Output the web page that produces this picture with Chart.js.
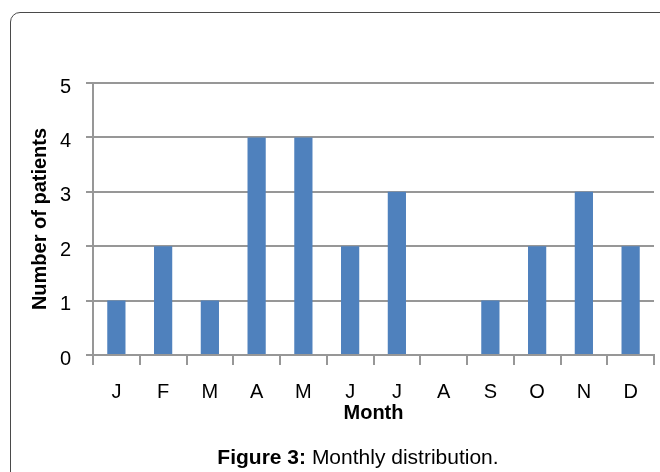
<!DOCTYPE html>
<html>
<head>
<meta charset="utf-8">
<script src="https://cdn.jsdelivr.net/npm/chart.js@4"></script>
<style>
  html, body { margin: 0; padding: 0; background: #fff; }
  body { width: 660px; height: 472px; position: relative; overflow: hidden; font-family: "Liberation Sans", Arial, sans-serif; }
  .frame { position: absolute; left: 10px; top: 12px; width: 680px; height: 500px; border: 1.5px solid #4a4a4a; border-radius: 10px; }
  #wrap { position: absolute; left: 0; top: 0; width: 660px; height: 472px; }
  .caption { position: absolute; left: 0; top: 444px; width: 716px; text-align: center; font-size: 21px; line-height: 26px; color: #000; }
</style>
</head>
<body>
<div class="frame"></div>
<div id="wrap"><canvas id="chart" width="660" height="472"></canvas></div>
<div class="caption"><b>Figure 3:</b> Monthly distribution.</div>
<script>
  // chart data
  const months   = ['J', 'F', 'M', 'A', 'M', 'J', 'J', 'A', 'S', 'O', 'N', 'D'];
  const patients = [1, 2, 1, 4, 4, 2, 3, 0, 1, 2, 3, 2];
  const yTicks   = [0, 1, 2, 3, 4, 5];

  const gridGrey = '#979797';
  const font     = { family: '"Liberation Sans", Arial, sans-serif', size: 20 };
  const bold     = { family: '"Liberation Sans", Arial, sans-serif', size: 20, weight: 'bold' };

  new Chart(document.getElementById('chart'), {
    type: 'bar',
    data: {
      labels: months,
      datasets: [{
        label: 'Number of patients',
        data: patients,
        backgroundColor: '#4F81BD',
        borderWidth: 0,
        barPercentage: 0.39,
        categoryPercentage: 1,
      }],
    },
    options: {
      responsive: false,
      animation: false,
      layout: { padding: { left: 24, top: 83, right: 6, bottom: 47 } },
      plugins: { legend: { display: false }, tooltip: { enabled: false } },
      scales: {
        x: {
          offset: true,
          grid: { offset: true, drawOnChartArea: false, drawTicks: true, tickLength: 10, color: gridGrey, lineWidth: 2 },
          border: { color: gridGrey, width: 2 },
          ticks: { color: '#000', font: font, padding: 15, maxRotation: 0 },
          title: { display: true, text: 'Month', color: '#000', font: bold, padding: { top: 0, bottom: 0 } },
          afterFit: s => { s.height = 70; },
        },
        y: {
          min: 0,
          max: 5,
          afterBuildTicks: s => { s.ticks = yTicks.map(v => ({ value: v })); },
          grid: { color: gridGrey, lineWidth: 2, tickLength: 7 },
          border: { color: gridGrey, width: 2 },
          ticks: { color: '#000', font: font, padding: 15, labelOffset: 4 },
          title: { display: true, text: 'Number of patients', color: '#000', font: bold, padding: { top: 4, bottom: 4 } },
          afterFit: s => { s.width = 69; },
        },
      },
    },
  });
</script>
</body>
</html>
